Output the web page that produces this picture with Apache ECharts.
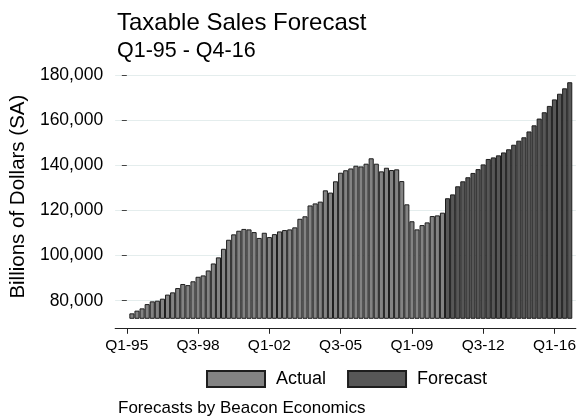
<!DOCTYPE html>
<html>
<head>
<meta charset="utf-8">
<script src="https://cdn.jsdelivr.net/npm/echarts@6/dist/echarts.min.js"></script>
<style>
html,body{margin:0;padding:0;background:#fff;}
#chart{width:579px;height:419px;}
</style>
</head>
<body>
<div id="chart"></div>
<script>
const quarters = [
  "Q1-95","Q2-95","Q3-95","Q4-95","Q1-96","Q2-96","Q3-96","Q4-96","Q1-97","Q2-97","Q3-97","Q4-97",
  "Q1-98","Q2-98","Q3-98","Q4-98","Q1-99","Q2-99","Q3-99","Q4-99","Q1-00","Q2-00","Q3-00","Q4-00",
  "Q1-01","Q2-01","Q3-01","Q4-01","Q1-02","Q2-02","Q3-02","Q4-02","Q1-03","Q2-03","Q3-03","Q4-03",
  "Q1-04","Q2-04","Q3-04","Q4-04","Q1-05","Q2-05","Q3-05","Q4-05","Q1-06","Q2-06","Q3-06","Q4-06",
  "Q1-07","Q2-07","Q3-07","Q4-07","Q1-08","Q2-08","Q3-08","Q4-08","Q1-09","Q2-09","Q3-09","Q4-09",
  "Q1-10","Q2-10","Q3-10","Q4-10","Q1-11","Q2-11","Q3-11","Q4-11","Q1-12","Q2-12","Q3-12","Q4-12",
  "Q1-13","Q2-13","Q3-13","Q4-13","Q1-14","Q2-14","Q3-14","Q4-14","Q1-15","Q2-15","Q3-15","Q4-15",
  "Q1-16","Q2-16","Q3-16","Q4-16"
];
// Actual: Q1-95 .. Q3-10
const actualValues = [
  null, 74400, 75600, 76600, 78500, 79700, 80000, 80900, 82700, 83700,
  85600, 87400, 86900, 88600, 90600, 91200, 93400, 96500, 99200, 103000,
  107000, 109400, 111000, 111800, 111600, 110400, 107800, 110100, 108200, 109500,
  110700, 111300, 111600, 112500, 116300, 117400, 122200, 123100, 123900, 128900,
  127900, 132900, 136700, 137800, 138600, 139800, 139500, 140700, 143100, 140700,
  137300, 138900, 137900, 138200, 133000, 122700, 115200, 111600, 113500, 114700,
  117500, 117800, 119000
];
// Forecast: Q4-10 .. Q4-16
const forecastValues = [
  125400, 127100, 130700, 132900, 134700, 136600, 138300, 140400, 142800, 143500,
  144400, 145700, 147100, 149100, 150900, 152400, 155000, 157700, 160700, 163500,
  166300, 169200, 171700, 174100, 176800
];
const xTickIdx = [0, 14, 28, 42, 56, 70, 84];
const yTicks = [80000, 100000, 120000, 140000, 160000, 180000];

const FONT = "'Liberation Sans', Arial, Helvetica, sans-serif";
const actualData = actualValues.map((v, i) => [i, v]);
const forecastData = forecastValues.map((v, j) => [actualValues.length + j, v]);

const chart = echarts.init(document.getElementById('chart'), null, {renderer: 'canvas'});
chart.setOption({
  animation: false,
  backgroundColor: '#ffffff',
  textStyle: {fontFamily: FONT},
  title: [
    {text: 'Taxable Sales Forecast', left: 117, top: 11, padding: 0,
     textStyle: {fontFamily: FONT, fontSize: 24, fontWeight: 'normal', color: '#000'}},
    {text: 'Q1-95 - Q4-16', left: 117, top: 40.5, padding: 0,
     textStyle: {fontFamily: FONT, fontSize: 21.5, fontWeight: 'normal', color: '#000'}},
    {text: 'Forecasts by Beacon Economics', left: 118, top: 400, padding: 0,
     textStyle: {fontFamily: FONT, fontSize: 17, fontWeight: 'normal', color: '#000'}}
  ],
  legend: {
    left: 206, top: 370, padding: 0,
    itemWidth: 58, itemHeight: 16, itemGap: 21,
    icon: 'rect',
    textStyle: {fontFamily: FONT, fontSize: 18, color: '#000', padding: [0, 0, 0, 6]},
    data: ['Actual', 'Forecast']
  },
  grid: {left: 115, right: 2, top: 75, bottom: 100.7, containLabel: false},
  xAxis: {
    type: 'value',
    min: -2.29, max: 88.2,
    offset: 10,
    splitLine: {show: false},
    axisLine: {show: true, lineStyle: {color: '#222', width: 1}},
    axisTick: {show: true, length: 5.5, lineStyle: {color: '#222'}, customValues: xTickIdx},
    axisLabel: {customValues: xTickIdx, margin: 9, fontFamily: FONT, fontSize: 15.5, color: '#000',
      formatter: v => quarters[Math.round(v)] || ''}
  },
  yAxis: {
    type: 'value',
    min: 72200, max: 180000,
    name: 'Billions of Dollars (SA)',
    nameLocation: 'middle',
    nameGap: 86,
    nameTextStyle: {fontFamily: FONT, fontSize: 20.5, color: '#000'},
    axisLine: {show: false},
    axisTick: {show: true, length: 5, lineStyle: {color: '#444'}, customValues: yTicks},
    axisLabel: {customValues: yTicks, margin: 12, fontFamily: FONT, fontSize: 17.5, color: '#000',
      formatter: v => v.toLocaleString('en-US')},
    splitLine: {show: true, lineStyle: {color: '#e4eded', width: 1}}
  },
  series: [
    {name: 'Actual', type: 'bar', data: actualData, barWidth: 5.107, barGap: '-100%',
     itemStyle: {color: '#838383', borderColor: '#1e1e1e', borderWidth: 1}},
    {name: 'Forecast', type: 'bar', data: forecastData, barWidth: 5.107, barGap: '-100%',
     itemStyle: {color: '#575757', borderColor: '#1e1e1e', borderWidth: 1}}
  ]
});
</script>
</body>
</html>
